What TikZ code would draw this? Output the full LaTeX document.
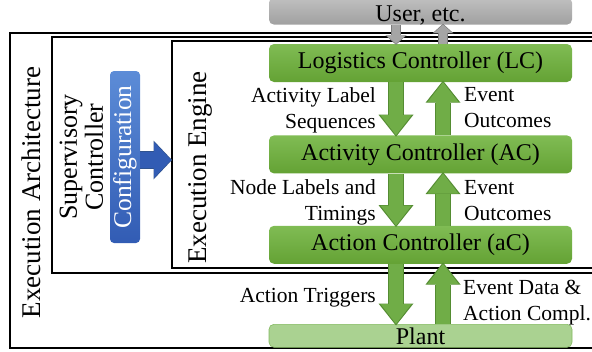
\documentclass[tikz,border=0pt]{standalone}
\usepackage{fontspec}
\setmainfont{Liberation Serif}
\usetikzlibrary{arrows.meta,calc,positioning}

\definecolor{ctrltop}{RGB}{128,188,84}
\definecolor{ctrlbot}{RGB}{100,162,52}
\definecolor{plantfill}{RGB}{170,210,145}
\definecolor{plantedge}{RGB}{130,185,95}
\definecolor{usertop}{RGB}{192,192,192}
\definecolor{userbot}{RGB}{160,160,160}
\definecolor{flowgreen}{RGB}{112,173,71}
\definecolor{flowedge}{RGB}{84,140,50}
\definecolor{usergray}{RGB}{165,165,165}
\definecolor{useredge}{RGB}{125,125,125}
\definecolor{cfglight}{RGB}{92,140,215}
\definecolor{cfgdark}{RGB}{50,92,180}
\definecolor{cfgedge}{RGB}{47,82,143}

\begin{document}
\begin{tikzpicture}[x=1pt,y=-1pt,node distance=53pt]
\tikzstyle{frame}=[draw=black,line width=2pt,anchor=north west,inner sep=0pt,minimum width=600pt]
\tikzstyle{ctrl}=[rounded corners=5pt,top color=ctrltop,bottom color=ctrlbot,minimum width=303pt,minimum height=38pt,inner sep=0pt,font=\fontsize{24}{26}\selectfont]
\tikzstyle{lbl}=[inner sep=0pt,font=\fontsize{21.5}{26}\selectfont]
\tikzstyle{title}=[rotate=90,inner sep=0pt,font=\fontsize{27}{26}\selectfont]
\tikzstyle{cfgbox}=[rotate=90,rounded corners=4pt,top color=cfglight,bottom color=cfgdark,minimum width=172pt,minimum height=30pt,inner sep=0pt,text=white,font=\fontsize{25.5}{26}\selectfont]
\tikzstyle{flow}=[draw=flowgreen,line width=14pt,-{Triangle[width=31pt,length=20pt,line width=0pt]},
  preaction={draw=flowedge,line width=16pt,shorten >=-1.5pt,-{Triangle[width=35pt,length=22pt,line width=0pt]}}]
\tikzstyle{userflow}=[draw=usergray,line width=8pt,-{Triangle[width=18pt,length=8pt,line width=0pt]},
  preaction={draw=useredge,line width=10pt,shorten >=-1pt,-{Triangle[width=21pt,length=9.5pt,line width=0pt]}}]
\tikzstyle{cfgflow}=[draw=cfgdark,line width=16pt,-{Triangle[width=36pt,length=17pt,line width=0pt]},
  preaction={draw=cfgedge,line width=18pt,shorten >=-1pt,-{Triangle[width=39pt,length=18.5pt,line width=0pt]}}]

\useasboundingbox (0,0) rectangle (592,351);
\clip (0,0) rectangle (592,351);

\node[frame,minimum height=315pt] (arch) at (9,32) {};
\node[frame,minimum height=236pt] (sup) at (51,36) {};
\node[frame,minimum height=227pt] (engine) at (171,40) {};

\node[title] (archlbl) at (31,192.5) {Execution Architecture};
\node[title,align=center,font=\fontsize{26}{26}\selectfont] (suplbl) at (81.5,157) {Supervisory\\Controller};
\node[cfgbox] (cfg) at (125,157) {Configuration};
\node[title] (englbl) at (200,167.5) {Execution Engine};

\node[ctrl] (lc) at (420.5,63) {Logistics Controller (LC)};
\node[ctrl] (ac) [below=53pt of lc] {Activity Controller (AC)};
\node[ctrl] (acl) [below=52pt of ac] {Action Controller (aC)};
\node[ctrl,top color=plantfill,bottom color=plantfill,draw=plantedge,line width=0.6pt,minimum height=23pt] (plant) [below=60pt of acl] {Plant};
\node[ctrl,top color=usertop,bottom color=userbot,minimum height=27pt,text height=21pt,text depth=0pt] (user) [above=19pt of lc] {User, etc.};

\node[lbl,anchor=east,align=right] (seqlbl) at (376,110) {Activity Label\\Sequences};
\node[lbl,anchor=west,align=left] (outlbl) at (464,108) {Event\\Outcomes};
\node[lbl,anchor=east,align=right] (timlbl) at (376,202.5) {Node Labels and\\Timings};
\node[lbl,anchor=west,align=left] (outlbltwo) at (464,201) {Event\\Outcomes};
\node[lbl,anchor=east] (trglbl) at (376,297.5) {Action Triggers};
\node[lbl,anchor=west,align=left] (datlbl) at (463,302.5) {Event Data \&\\Action Compl.};

\draw[cfgflow] ([yshift=-3pt]cfg.south) -- ([yshift=-3pt]cfg.south -| engine.west);

\draw[userflow] ([xshift=-24.5pt]user.south) -- ([xshift=-24.5pt]lc.north);
\draw[userflow] ([xshift=22.5pt]lc.north) -- ([xshift=22.5pt]user.south);
\draw[flow] ([xshift=-24.5pt]lc.south) -- ([xshift=-24.5pt]ac.north);
\draw[flow] ([xshift=22.5pt]ac.north) -- ([xshift=22.5pt]lc.south);
\draw[flow] ([xshift=-24.5pt]ac.south) -- ([xshift=-24.5pt]acl.north);
\draw[flow] ([xshift=22.5pt]acl.north) -- ([xshift=22.5pt]ac.south);
\draw[flow] ([xshift=-24.5pt]acl.south) -- ([xshift=-24.5pt]plant.north);
\draw[flow] ([xshift=22.5pt]plant.north) -- ([xshift=22.5pt]acl.south);
\end{tikzpicture}
\end{document}
